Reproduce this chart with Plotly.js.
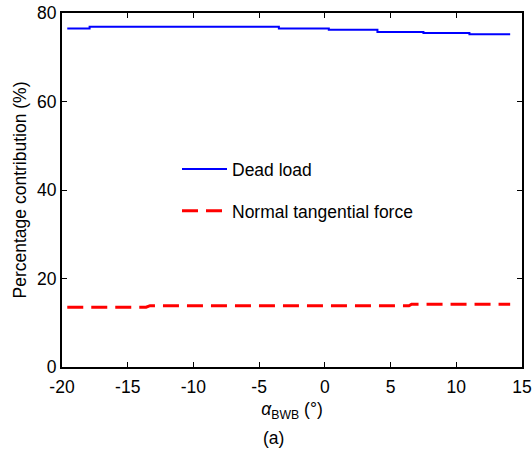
<!DOCTYPE html>
<html>
<head>
<meta charset="utf-8">
<script src="https://cdn.plot.ly/plotly-3.0.1.min.js"></script>
<style>html,body{margin:0;padding:0;background:#fff;}#chart{width:532px;height:462px;}</style>
</head>
<body>
<div id="chart"></div>
<script>
var deadX = [-19.6, -17.9, -3.5, 0.3, 4.0, 7.5, 11.0, 14.1];
var deadY = [76.5, 76.9, 76.5, 76.2, 75.7, 75.5, 75.2, 75.2];
var normalX = [-19.6, -13.6, -13.3, 6.4, 6.6, 14.1];
var normalY = [13.5, 13.5, 13.85, 13.85, 14.2, 14.2];
var xTicks = [-20, -15, -10, -5, 0, 5, 10, 15];
var yTicks = [0, 20, 40, 60, 80];

var font = {family: 'Liberation Sans, Arial, sans-serif', size: 17.5, color: '#000'};
var tickFont = {family: 'Liberation Sans, Arial, sans-serif', size: 17.5, color: '#000'};

var traces = [
  {x: deadX, y: deadY, mode: 'lines', name: 'Dead load', legendgroup: 'a',
   line: {color: '#0000ff', width: 2, shape: 'hv'}},
  {x: normalX, y: normalY, mode: 'lines', name: 'Normal tangential force', legendgroup: 'b',
   line: {color: '#ff0000', width: 3, dash: '16px,8px'}}
];

var axisCommon = {
  showline: true, linecolor: '#000', linewidth: 2, mirror: 'ticks',
  ticks: 'inside', ticklen: 5, tickwidth: 1, tickcolor: '#000',
  showgrid: false, zeroline: false, tickfont: tickFont
};

var layout = {
  width: 532, height: 462,
  margin: {l: 62, r: 10, t: 13, b: 95},
  paper_bgcolor: '#fff', plot_bgcolor: '#fff',
  font: font,
  showlegend: true,
  legend: {x: 0.25, y: 0.61, xanchor: 'left', yanchor: 'top', bgcolor: 'rgba(0,0,0,0)',
    font: font, traceorder: 'grouped', tracegroupgap: 16, itemwidth: 45},
  xaxis: Object.assign({}, axisCommon, {
    range: [-20, 15], tickvals: xTicks, ticktext: xTicks.map(String), ticklabelstandoff: 3,
    title: {text: '<i>α</i><sub>BWB</sub> (°)', font: font, standoff: 7}
  }),
  yaxis: Object.assign({}, axisCommon, {
    range: [0, 80], tickvals: yTicks, ticktext: yTicks.map(String),
    title: {text: 'Percentage contribution (%)', font: font, standoff: 6}
  }),
  annotations: [
    {text: '(a)', xref: 'paper', yref: 'paper', x: 0.46, y: -0.2, xanchor: 'center', yanchor: 'middle',
     showarrow: false, font: font}
  ]
};

Plotly.newPlot('chart', traces, layout, {staticPlot: true, displayModeBar: false});
</script>
</body>
</html>
